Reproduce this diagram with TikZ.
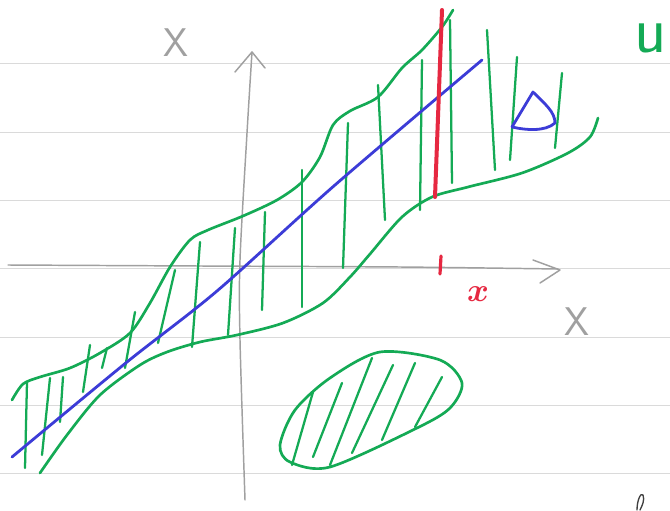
\documentclass[tikz,border=0pt]{standalone}
\usepackage{tikz}
\usetikzlibrary{arrows.meta,calc}
\definecolor{pengreen}{RGB}{20,170,85}
\definecolor{penblue}{RGB}{60,60,215}
\definecolor{penred}{RGB}{230,40,65}
\definecolor{pengray}{RGB}{160,160,160}
\definecolor{rulegray}{RGB}{218,218,218}

\begin{document}
\begin{tikzpicture}[x=0.75pt, y=-0.75pt, line cap=round, line join=round]
\tikzset{ruled/.style={draw=rulegray, line width=0.6pt}}
\tikzset{axispen/.style={draw=pengray, line width=1.1pt}}
\tikzset{greenpen/.style={draw=pengreen, line width=2pt}}
\tikzset{hatchpen/.style={draw=pengreen, line width=1.7pt}}
\tikzset{bluepen/.style={draw=penblue, line width=2.1pt}}
\tikzset{redpen/.style={draw=penred, line width=3pt}}
\tikzset{gray label/.style={text=pengray, font=\sffamily\fontsize{30}{30}\selectfont, inner sep=0pt}}
\useasboundingbox (0,0) rectangle (670,510);
\fill[white] (0,0) rectangle (670,510);
% notebook lines
\foreach \y in {63,132,200,268,337,405,473}
  \draw[ruled] (0,\y) -- (670,\y);
% axes
\draw[axispen] plot[smooth] coordinates {(245,500) (240,340) (240,260) (247,133) (252,52)};
\draw[axispen] (235,72) -- (252,52) -- (265,68);
\draw[axispen] plot[smooth] coordinates {(8,265) (200,266) (400,267) (558,269)};
\draw[axispen] (533,260) -- (560,270) -- (540,283);
\node[gray label] (Xv) at (176,43) {X};
\node[gray label] (Xh) at (577,322) {X};
% band
\draw[greenpen] plot[smooth] coordinates {(12,400) (23,384) (40,377) (70,368) (100,353) (130,333) (150,303)
  (170,267) (190,240) (208,230) (243,216) (277,200) (302,182) (320,157) (333,125) (350,111)
  (378,97) (402,68) (422,50) (442,27) (453,10)};
\draw[greenpen] plot[smooth] coordinates {(40,473) (67,435) (100,395) (140,365) (167,352) (200,342)
  (237,335) (283,323) (323,303) (350,277) (370,254) (402,217) (432,197) (468,187) (522,173)
  (568,153) (590,137) (598,118)};
\foreach \xa/\ya/\xb/\yb in {27/382/25/468, 50/378/42/455, 63/377/60/422, 90/345/83/392,
  107/348/102/368, 135/312/125/368, 175/270/158/343, 200/242/192/347, 235/228/228/335,
  265/212/262/310, 302/170/302/307, 348/123/343/268, 378/85/385/220, 422/60/420/210,
  450/20/452/183, 487/30/495/170, 517/57/510/160, 562/73/555/148}
  \draw[hatchpen] (\xa,\ya) -- (\xb,\yb);
\node[text=pengreen, font=\sffamily\fontsize{50}{50}\selectfont, inner sep=0pt] (u) at (651,38) {u};
% line through the band
\draw[bluepen] plot[smooth] coordinates {(12,457) (127,362) (217,291) (335,185) (482,60)};
\draw[bluepen] (512,127) -- (533,92) .. controls (545,104) and (555,112) .. (555,123)
  .. controls (545,132) and (525,130) .. (512,127);
% fibre over x
\draw[redpen] (442,10) -- (435,197);
\draw[draw=penred, line width=2.4pt] (441,256) -- (440,274);
\node[text=penred, font=\fontsize{36}{36}\selectfont\boldmath, inner sep=0pt] (xpt) at (478,294) {$x$};
% blob
\draw[greenpen] plot[smooth cycle] coordinates {(380,352) (440,360) (462,383) (450,408) (417,428)
  (330,467) (290,462) (280,445) (295,410) (330,378)};
\foreach \xa/\ya/\xb/\yb in {313/392/292/465, 342/383/313/457, 372/358/330/465,
  393/365/352/453, 415/363/382/440, 442/377/415/427}
  \draw[hatchpen] (\xa,\ya) -- (\xb,\yb);
% edge of a letter below
\draw[draw=black!75, line width=1pt] (637,510) .. controls (637,500) and (641,492) .. (643,495)
  .. controls (645,500) and (642,506) .. (640,510);
\end{tikzpicture}
\end{document}
